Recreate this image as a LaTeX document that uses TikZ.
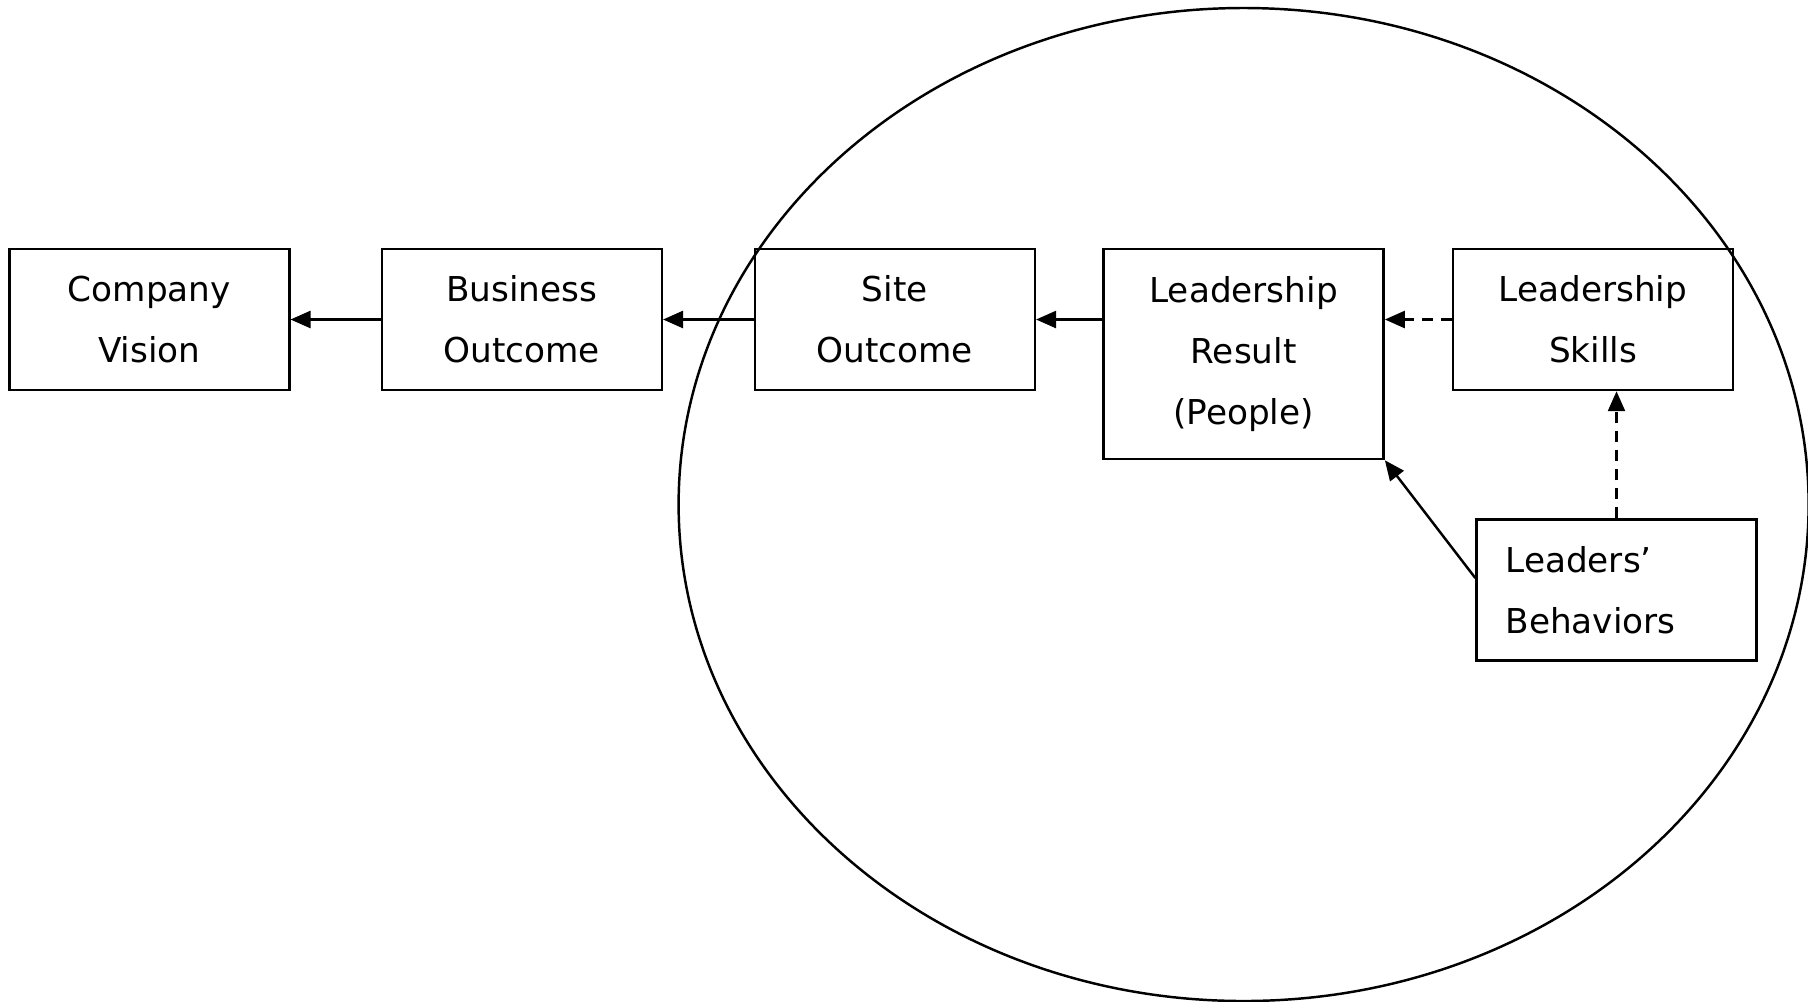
\documentclass[tikz,border=0pt]{standalone}
\usepackage{fontspec}
\setmainfont{DejaVu Sans}
\usepackage{tikz}
\usetikzlibrary{arrows.meta,shapes,positioning}
\tikzstyle{arrow} = [line width=0.7pt,->,>={Triangle[length=0.2cm,width=0.17cm]}]
\tikzstyle{dasharrow} = [arrow, dash pattern=on 3.2pt off 2.2pt]
\tikzstyle{stage} = [rectangle, draw, line width=0.7pt, minimum width=2.8cm, minimum height=1.41cm, text centered, align=center, font=\fontsize{9.75}{17.4}\selectfont]

\begin{document}
\begin{tikzpicture}
\useasboundingbox (0,0) rectangle (18.08,-10.01);
% Chain of outcomes
\node (company) [stage] at (1.493,-3.195) {Company\\Vision};
\node (business) [stage, right of=company, node distance=3.725cm] {Business\\Outcome};
\node (site) [stage, right of=business, node distance=3.73cm] {Site\\Outcome};
\node (result) [stage, right of=site, node distance=3.488cm, yshift=-0.345cm, minimum height=2.1cm] {Leadership\\Result\\(People)};
\node (skills) [stage, right of=result, node distance=3.494cm, yshift=0.345cm] {Leadership\\Skills};
\node (behaviors) [stage, below of=skills, node distance=2.705cm, xshift=0.235cm, align=left, text width=2.22cm, inner xsep=0.29cm] {Leaders'\\Behaviors};

% Circle of influence
\draw[line width=0.7pt] (result.center |- 0,-5.045) ellipse [x radius=5.65cm, y radius=4.965cm];

% Links
\draw[arrow] (business) -- (company);
\draw[arrow] (site) -- (business);
\draw[arrow] (site.east -| result.west) -- (site.east);
\draw[dasharrow] (skills.west) -- (skills.west -| result.east);
\draw[dasharrow] (behaviors.north) -- (behaviors.north |- skills.south);
\draw[arrow] ([yshift=0.12cm]behaviors.west) -- (result.south east);
\end{tikzpicture}
\end{document}
